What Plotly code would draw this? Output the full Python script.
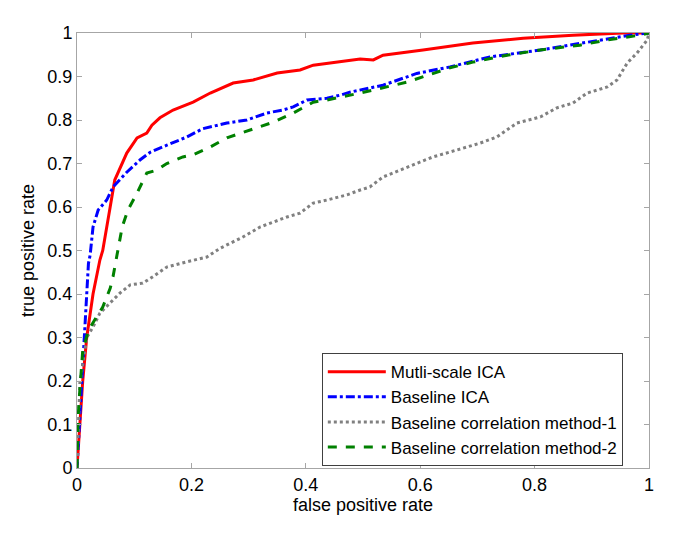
import plotly.graph_objects as go

# Mutli-scale ICA
red_x = [0, 0.005, 0.010, 0.017, 0.028, 0.040, 0.045, 0.058, 0.066, 0.087, 0.105, 0.122, 0.131, 0.145, 0.168,
         0.203, 0.233, 0.273, 0.308, 0.350, 0.390, 0.413, 0.437, 0.460, 0.495, 0.518, 0.535, 0.605, 0.692,
         0.780, 0.867, 0.955, 1.0]
red_y = [0, 0.10, 0.20, 0.30, 0.40, 0.478, 0.50, 0.60, 0.662, 0.724, 0.759, 0.770, 0.788, 0.805, 0.823,
         0.841, 0.862, 0.885, 0.892, 0.908, 0.915, 0.926, 0.930, 0.933, 0.940, 0.938, 0.949, 0.961, 0.977,
         0.988, 0.995, 1.0, 1.0]

# Baseline ICA
blue_x = [0, 0.005, 0.010, 0.014, 0.017, 0.020, 0.023, 0.028, 0.037, 0.052, 0.063, 0.087, 0.110, 0.128, 0.157,
          0.192, 0.220, 0.262, 0.297, 0.332, 0.360, 0.378, 0.402, 0.437, 0.460, 0.477, 0.535, 0.594, 0.652,
          0.722, 0.810, 0.897, 0.967, 1.0]
blue_y = [0, 0.117, 0.230, 0.350, 0.400, 0.470, 0.490, 0.554, 0.593, 0.616, 0.646, 0.680, 0.708, 0.726, 0.742,
          0.761, 0.780, 0.793, 0.800, 0.816, 0.823, 0.830, 0.846, 0.850, 0.857, 0.864, 0.880, 0.907, 0.922,
          0.945, 0.961, 0.979, 0.995, 1.0]

# Baseline correlation method-1
gray_x = [0, 0.005, 0.017, 0.028, 0.040, 0.058, 0.075, 0.093, 0.115, 0.133, 0.157, 0.192, 0.227, 0.250,
          0.290, 0.320, 0.367, 0.390, 0.413, 0.437, 0.472, 0.495, 0.512, 0.535, 0.577, 0.622, 0.664, 0.705,
          0.734, 0.769, 0.810, 0.839, 0.867, 0.892, 0.927, 0.944, 0.962, 0.979, 0.997, 1.0]
gray_y = [0, 0.195, 0.300, 0.324, 0.356, 0.379, 0.402, 0.421, 0.425, 0.440, 0.462, 0.474, 0.485, 0.505,
          0.531, 0.554, 0.577, 0.586, 0.609, 0.616, 0.628, 0.639, 0.646, 0.669, 0.692, 0.715, 0.731, 0.747,
          0.761, 0.793, 0.807, 0.828, 0.839, 0.862, 0.876, 0.892, 0.931, 0.954, 0.984, 1.0]

# Baseline correlation method-2
green_x = [0, 0.002, 0.005, 0.010, 0.020, 0.035, 0.045, 0.058, 0.063, 0.070, 0.079, 0.089, 0.105, 0.122,
           0.140, 0.157, 0.185, 0.203, 0.233, 0.262, 0.302, 0.343, 0.378, 0.413, 0.437, 0.465, 0.495, 0.518,
           0.577, 0.652, 0.692, 0.752, 0.810, 0.879, 0.927, 0.984, 1.0]
green_y = [0, 0.117, 0.180, 0.270, 0.317, 0.347, 0.370, 0.413, 0.440, 0.490, 0.554, 0.593, 0.632, 0.678,
           0.685, 0.700, 0.715, 0.720, 0.738, 0.759, 0.777, 0.795, 0.816, 0.841, 0.846, 0.853, 0.862, 0.869,
           0.887, 0.920, 0.933, 0.949, 0.961, 0.972, 0.984, 0.995, 1.0]

names = ["Mutli-scale ICA", "Baseline ICA", "Baseline correlation method-1", "Baseline correlation method-2"]

FONT = "Liberation Sans, Arial"
FS = 18

fig = go.Figure()
fig.add_trace(go.Scatter(x=red_x, y=red_y, mode="lines", name=names[0],
                         line=dict(color="#FF0000", width=3)))
fig.add_trace(go.Scatter(x=blue_x, y=blue_y, mode="lines", name=names[1],
                         line=dict(color="#0000FF", width=3, dash="dashdot")))
fig.add_trace(go.Scatter(x=gray_x, y=gray_y, mode="lines", name=names[2],
                         line=dict(color="#808080", width=3, dash="dot")))
fig.add_trace(go.Scatter(x=green_x, y=green_y, mode="lines", name=names[3],
                         line=dict(color="#008000", width=3, dash="dash")))

axis_common = dict(showgrid=False, zeroline=False, showline=True, linecolor="#a6a6a6", linewidth=1,
                   mirror="ticks", ticks="inside", ticklen=5, tickcolor="#a6a6a6",
                   tickfont=dict(family=FONT, size=FS, color="#000000"))

fig.update_layout(
    width=685, height=544,
    margin=dict(l=69, r=44, t=25, b=84),
    paper_bgcolor="white", plot_bgcolor="white",
    font=dict(family=FONT, size=FS, color="#000000"),
    xaxis=dict(range=[0, 1], tickvals=[0, 0.2, 0.4, 0.6, 0.8, 1], ticktext=["0", "0.2", "0.4", "0.6", "0.8", "1"],
               title=dict(text="false positive rate", font=dict(size=FS), standoff=4), **axis_common),
    yaxis=dict(range=[0, 1], tickvals=[i / 10 for i in range(11)],
               ticktext=["0", "0.1", "0.2", "0.3", "0.4", "0.5", "0.6", "0.7", "0.8", "0.9", "1"],
               title=dict(text="true positive rate", font=dict(size=FS), standoff=8), **axis_common),
    legend=dict(x=0.428, y=0.264, xanchor="left", yanchor="top", bgcolor="white",
                bordercolor="#404040", borderwidth=1, font=dict(size=17), tracegroupgap=0,
                itemwidth=58),
    showlegend=True,
)

fig.write_html("out.html")
